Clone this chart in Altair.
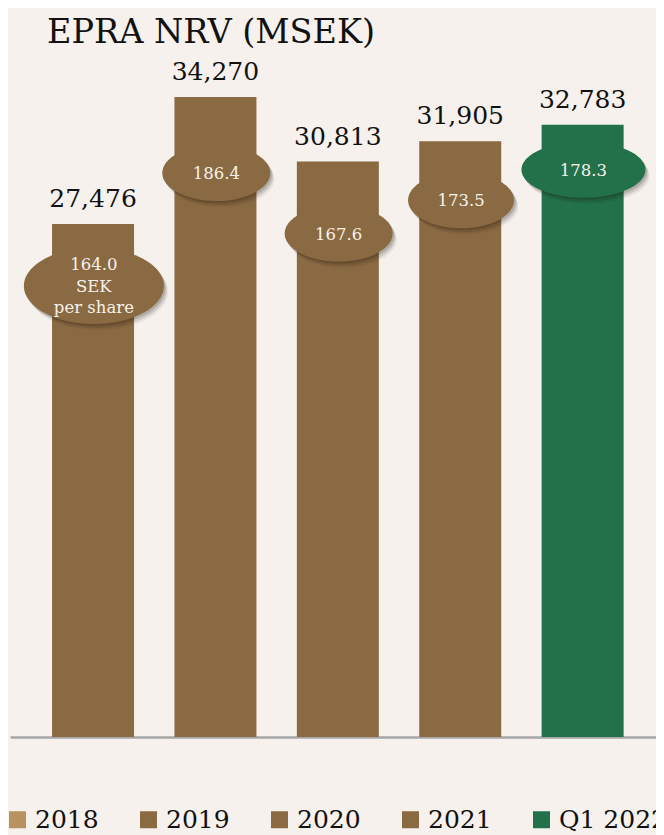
import altair as alt
import pandas as pd

# ---- data ----
years = ["2018", "2019", "2020", "2021", "Q1 2022"]
nrv_msek = [27476, 34270, 30813, 31905, 32783]
nrv_per_share = [164.0, 186.4, 167.6, 173.5, 178.3]
first_suffix = "\nSEK\nper share"

# ---- styling / layout ----
bar_colors = ["#8a6a42", "#8a6a42", "#8a6a42", "#8a6a42", "#22714a"]
legend_colors = ["#b8925f", "#8a6a42", "#8a6a42", "#8a6a42", "#22714a"]
badge_drop_px = [62, 76, 72, 59, 45]
badge_w_px = [140, 108, 108, 106, 124]
badge_h_px = [76, 56, 56, 56, 56]
LINE_H = 21.5

PLOT_W, PLOT_H = 646, 669
Y_MAX = 35823
units_per_px = Y_MAX / PLOT_H
FONT = "DejaVu Serif"

labels = [f"{v:.1f}" for v in nrv_per_share]
labels[0] = labels[0] + first_suffix

df = pd.DataFrame({
    "year": years,
    "nrv": nrv_msek,
    "label": labels,
})
df["badge_y"] = [n - d * units_per_px for n, d in zip(nrv_msek, badge_drop_px)]
df["text_y"] = [b + (lab.count("\n")) * LINE_H / 2 * units_per_px
                for b, lab in zip(df["badge_y"], labels)]
df["path"] = [f"M-1,0A1,{h / w:.4f} 0 1,1 1,0A1,{h / w:.4f} 0 1,1 -1,0Z"
              for w, h in zip(badge_w_px, badge_h_px)]
df["sz"] = [w * w for w in badge_w_px]
# soft drop shadow: a few offset copies (pixel drop -> data units)
shadow_steps = [(2, 0.53, 0.16), (4, 0.545, 0.12), (6, 0.56, 0.07)]
for i, (drop, _, _) in enumerate(shadow_steps):
    df[f"sh{i}"] = df["badge_y"] - drop * units_per_px

x_scale = alt.Scale(paddingInner=0.33, paddingOuter=0.304, align=0.565)
x_enc = alt.X("year:N", sort=years, scale=x_scale,
              axis=alt.Axis(labels=False, ticks=False, title=None, grid=False,
                            domainColor="#a6a6a6", domainWidth=2.5))
y_scale = alt.Scale(domain=[0, Y_MAX], nice=False, zero=True)

base = alt.Chart(df)

bars = base.mark_bar().encode(
    x=x_enc,
    y=alt.Y("nrv:Q", scale=y_scale, axis=None),
    color=alt.Color("year:N", scale=alt.Scale(domain=years, range=bar_colors), legend=None),
)

values = base.mark_text(font=FONT, fontSize=25, baseline="alphabetic", dy=-17,
                        color="#111111").encode(
    x=alt.X("year:N", sort=years),
    y=alt.Y("nrv:Q"),
    text=alt.Text("nrv:Q", format=","),
)

shadows = []
for i, (drop, bp, op) in enumerate(reversed(shadow_steps)):
    idx = len(shadow_steps) - 1 - i
    shadows.append(
        base.mark_point(filled=True, color="#1a1208", opacity=op, strokeWidth=0).encode(
            x=alt.X("year:N", sort=years, bandPosition=bp),
            y=alt.Y(f"sh{idx}:Q"),
            shape=alt.Shape("path:N", scale=None),
            size=alt.Size("sz:Q", scale=None),
        )
    )

badges = base.mark_point(filled=True, opacity=1, strokeWidth=0).encode(
    x=alt.X("year:N", sort=years, bandPosition=0.51),
    y=alt.Y("badge_y:Q"),
    shape=alt.Shape("path:N", scale=None),
    size=alt.Size("sz:Q", scale=None),
    color=alt.Color("year:N", scale=alt.Scale(domain=years, range=bar_colors), legend=None),
)

badge_text = base.mark_text(font=FONT, fontSize=16.5, baseline="middle", dy=1,
                            lineBreak="\n", lineHeight=LINE_H, color="#f7f2ec").encode(
    x=alt.X("year:N", sort=years, bandPosition=0.51),
    y=alt.Y("text_y:Q"),
    text="label:N",
)

legend_layer = base.mark_square(opacity=0).encode(
    x=alt.X("year:N", sort=years),
    y=alt.Y("nrv:Q"),
    color=alt.Color("year:N", sort=years,
                    scale=alt.Scale(domain=years, range=legend_colors),
                    legend=alt.Legend(orient="none", legendX=-5, legendY=739,
                                      direction="horizontal", columns=5, title=None,
                                      symbolType="square", symbolSize=289,
                                      symbolOpacity=1, symbolStrokeWidth=0,
                                      labelFont=FONT, labelFontSize=25,
                                      labelColor="#111111", labelOffset=5,
                                      columnPadding=37, padding=0, labelLimit=0)),
)

chart = alt.layer(bars, legend_layer, values, *shadows, badges, badge_text).resolve_scale(
    color="independent"
).properties(
    width=PLOT_W,
    height=PLOT_H,
    title=alt.TitleParams("EPRA NRV (MSEK)", anchor="start", frame="group", dx=37,
                          offset=-16, baseline="alphabetic", font=FONT, fontSize=33.5,
                          fontWeight="normal", color="#111111"),
    autosize=alt.AutoSizeParams(type="none"),
    padding={"left": 2, "top": 60, "right": 0, "bottom": 98},
    background="#f6f1ed",
).configure_view(stroke=None)

chart.save("out.html", embed_options={"renderer": "svg", "actions": False})
